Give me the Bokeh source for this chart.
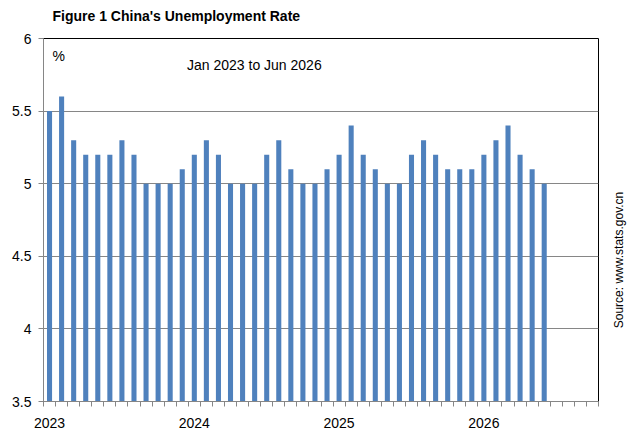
from bokeh.plotting import figure
from bokeh.models import Range1d, FixedTicker, Label, ColumnDataSource
from bokeh.layouts import row, column
from bokeh.embed import file_html
from bokeh.resources import INLINE
import math

# Monthly unemployment rate, Jan 2023 .. Jun 2026
rates = [5.5, 5.6, 5.3, 5.2, 5.2, 5.2, 5.3, 5.2, 5.0, 5.0, 5.0, 5.1,
         5.2, 5.3, 5.2, 5.0, 5.0, 5.0, 5.2, 5.3, 5.1, 5.0, 5.0, 5.1,
         5.2, 5.4, 5.2, 5.1, 5.0, 5.0, 5.2, 5.3, 5.2, 5.1, 5.1, 5.1,
         5.2, 5.3, 5.4, 5.2, 5.1, 5.0]
years = ["2023", "2024", "2025", "2026"]
n_slots = 46
y_ticks = [3.5, 4, 4.5, 5, 5.5, 6]
y_tick_labels = ["3.5", "4", "4.5", "5", "5.5", "6"]

FONT = "Liberation Sans"
GRAY = "#868686"
BAR = "#4F81BD"

idx = list(range(len(rates)))
src = ColumnDataSource(dict(x=idx, top=rates))

TH = 30          # title strip height
W, H = 599, 413  # main chart
p = figure(width=W, height=H, output_backend="svg", toolbar_location=None,
           x_range=Range1d(-0.5, n_slots - 0.5), y_range=Range1d(3.5, 6))
p.title = None
p.min_border_left = 43
p.min_border_right = 1
p.min_border_top = 8
p.min_border_bottom = 42
p.background_fill_color = "white"
p.border_fill_color = "white"
p.outline_line_color = "black"
p.outline_line_width = 1

p.vbar(x="x", top="top", bottom=3.5, width=0.42, source=src,
       fill_color=BAR, line_color=None)

# grid
p.xgrid.visible = False
p.ygrid.ticker = FixedTicker(ticks=y_ticks)
p.ygrid.grid_line_color = GRAY
p.ygrid.grid_line_width = 1

# y axis
ya = p.yaxis[0]
ya.ticker = FixedTicker(ticks=y_ticks)
ya.major_label_overrides = {t: l for t, l in zip(y_ticks, y_tick_labels)}
ya.axis_line_color = GRAY
ya.major_tick_line_color = GRAY
ya.major_tick_out = 5
ya.major_tick_in = 0
ya.minor_tick_line_color = None
ya.major_label_standoff = 7
ya.major_label_text_font = FONT
ya.major_label_text_font_size = "14px"
ya.major_label_text_color = "black"

# x axis
year_pos = [12 * i for i in range(len(years))]
xa = p.xaxis[0]
xa.ticker = FixedTicker(ticks=year_pos,
                        minor_ticks=[i - 0.5 for i in range(n_slots + 1)])
xa.major_label_overrides = {t: l for t, l in zip(year_pos, years)}
xa.axis_line_color = GRAY
xa.major_tick_line_color = None
xa.major_tick_out = 0
xa.major_tick_in = 0
xa.minor_tick_line_color = GRAY
xa.minor_tick_out = 5
xa.minor_tick_in = 0
xa.major_label_standoff = 11
xa.major_label_text_font = FONT
xa.major_label_text_font_size = "14px"
xa.major_label_text_color = "black"

fh = 363  # frame height (px)

p.add_layout(Label(x=9, y=fh - 17, x_units="screen", y_units="screen",
                   text="%", text_font=FONT, text_font_size="14px",
                   text_baseline="middle", text_align="left", text_color="black"))
p.add_layout(Label(x=143.5, y=fh - 26.5, x_units="screen", y_units="screen",
                   text="Jan 2023 to Jun 2026", text_font=FONT, text_font_size="14px",
                   text_baseline="middle", text_align="left", text_color="black"))


def blank(w, h, yr):
    f = figure(width=w, height=h, output_backend="svg", toolbar_location=None,
               x_range=Range1d(0, w), y_range=Range1d(0, yr),
               x_axis_type=None, y_axis_type=None, min_border=0)
    f.grid.visible = False
    f.outline_line_color = None
    f.background_fill_color = "white"
    f.border_fill_color = "white"
    return f


# title strip
top = blank(640, TH, TH)
top.add_layout(Label(x=52, y=TH - 15, text="Figure 1 China's Unemployment Rate",
                     text_font=FONT, text_font_size="14px", text_font_style="bold",
                     text_baseline="middle", text_align="left", text_color="black"))

# narrow side panel carrying the vertical source note
# (its frame is aligned with the chart frame, so y runs over the frame height)
SW = 41
side = blank(SW, H, fh)
side.add_layout(Label(x=19, y=141.5, text="Source: www.stats.gov.cn",
                      text_font=FONT, text_font_size="12px", angle=math.pi / 2,
                      text_baseline="middle", text_align="center",
                      text_color="black"))

layout = column(top, row(p, side, spacing=0), spacing=0)
open("out.html", "w").write(file_html(layout, INLINE))
